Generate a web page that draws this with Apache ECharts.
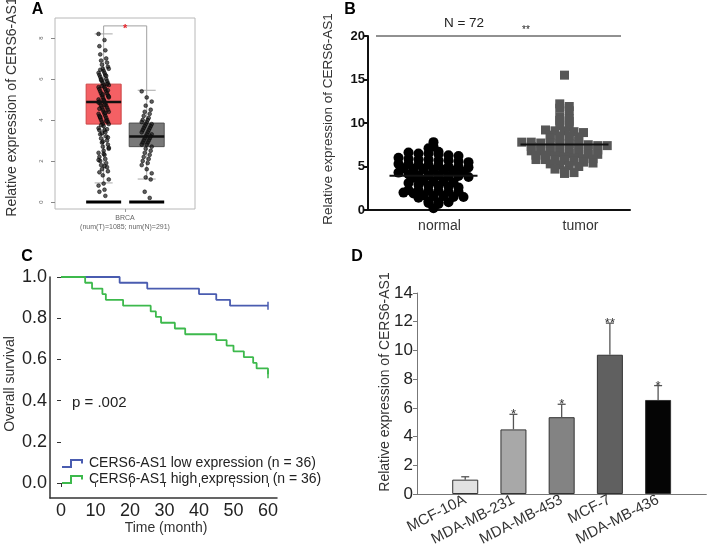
<!DOCTYPE html>
<html><head><meta charset="utf-8">
<script src="https://cdn.jsdelivr.net/npm/echarts@6/dist/echarts.min.js"></script>
<style>html,body{margin:0;padding:0;background:#fff}#c{width:709px;height:549px}</style>
</head><body><div id="c"></div>
<script>
// ---------- DATA ----------
// Panel A (GEPIA box plot, BRCA)
const catA = ['BRCA'];
const subA = '(num(T)=1085; num(N)=291)';
const groupsA = ['Tumor', 'Normal'];
// box stats: [lowWhisker, q1, median, q3, highWhisker]
const boxTumorA = [0.93, 3.8, 4.88, 5.75, 8.2];
const boxNormalA = [1.12, 2.7, 3.2, 3.85, 5.45];
const tumorA = [8.2,7.9,7.6,7.4,7.2,7.0,6.9,6.8,6.7,6.6,6.5,6.5,6.4,6.3,6.3,6.2,6.2,6.1,6.0,6.0,5.9,5.9,5.8,5.8,5.7,5.7,5.6,5.6,5.5,5.5,5.4,5.4,5.3,5.3,5.2,5.2,5.1,5.1,5.0,5.0,4.9,4.9,4.8,4.8,4.7,4.7,4.6,4.6,4.5,4.5,4.4,4.4,4.3,4.3,4.2,4.2,4.1,4.1,4.0,4.0,3.9,3.9,3.8,3.8,3.7,3.6,3.5,3.5,3.4,3.3,3.2,3.1,3.0,2.9,2.8,2.7,2.6,2.5,2.4,2.3,2.2,2.1,2.0,1.9,1.8,1.7,1.6,1.5,1.3,1.1,0.9,0.8,0.6,0.5,0.3,
  6.45,6.15,5.95,5.75,5.65,5.45,5.25,5.15,4.95,4.85,4.75,4.55,4.35,4.15,3.95,3.75,3.55,3.35,3.15,2.95,2.65,2.35,2.05,1.75,1.45];
const normalA = [5.4,5.1,4.9,4.7,4.5,4.4,4.3,4.2,4.1,4.0,4.0,3.9,3.9,3.8,3.8,3.7,3.7,3.6,3.6,3.5,3.5,3.4,3.4,3.3,3.3,3.2,3.2,3.1,3.1,3.0,3.0,2.9,2.9,2.8,2.8,2.7,2.6,2.5,2.4,2.3,2.2,2.1,2.0,1.9,1.8,1.6,1.4,1.2,1.1,0.5,0.2];

// Panel B (scatter, N = 72)
const catsB = ['normal', 'tumor'];
const normalB = [7.8,7.3,7.1,
 6.7,6.6,6.5,6.5,6.4,6.3,6.2,
 6.0,5.9,5.8,5.8,5.7,5.7,5.6,5.5,
 5.3,5.3,5.2,5.2,5.1,5.0,5.0,4.9,
 4.8,4.7,4.7,4.6,4.6,4.5,4.4,4.3,
 4.1,4.0,4.0,4.0,3.9,3.9,3.8,3.7,
 3.4,3.3,3.3,3.2,3.1,
 2.9,2.8,2.8,2.7,2.6,
 2.3,2.3,2.2,2.2,2.1,2.1,2.0,1.9,
 1.7,1.6,1.6,1.5,1.5,1.4,
 1.0,0.9,0.9,0.8,0.7,0.2];
const tumorB = [15.5,
 12.2,11.9,11.7,11.4,
 10.7,10.5,10.3,10.2,
 9.7,9.5,
 9.2,9.1,9.1,9.0,8.9,
 8.6,8.5,8.5,8.4,8.3,8.2,8.1,
 7.9,7.8,7.8,7.7,7.7,7.6,7.6,7.5,7.5,7.4,7.4,7.3,
 7.2,7.1,7.1,7.0,7.0,6.9,6.9,6.8,6.8,6.7,
 6.6,6.5,6.5,6.4,6.4,6.3,6.3,6.2,6.1,
 6.0,5.9,5.9,5.8,5.8,5.7,5.7,5.6,
 5.5,5.4,5.3,5.2,5.1,5.0,
 4.7,4.5,4.3,4.2];
const noteB = 'N = 72';
const sigB = '**';

// Panel C (Kaplan-Meier)
const timeLow = [0, 17, 25, 40, 45, 49, 60];
const survLow = [1.0, 0.972, 0.944, 0.917, 0.889, 0.861, 0.861];
const timeHigh = [0, 7, 9, 12, 13, 18, 26, 27.5, 29, 33, 36, 45, 48, 50, 53, 55.7, 56.7, 60];
const survHigh = [1.0, 0.972, 0.944, 0.917, 0.889, 0.861, 0.833, 0.806, 0.778, 0.750, 0.722, 0.694, 0.667, 0.639, 0.611, 0.583, 0.556, 0.528];
const namesC = ['CERS6-AS1 low expression (n = 36)', 'CERS6-AS1 high expression (n = 36)'];
const pText = 'p = .002';

// Panel D (bar chart)
const catsD = ['MCF-10A', 'MDA-MB-231', 'MDA-MB-453', 'MCF-7', 'MDA-MB-436'];
const valuesD = [1.0, 4.5, 5.35, 9.7, 6.55];
const errD = [0.2, 1.05, 0.9, 2.2, 1.0];
const sigD = ['', '*', '*', '**', '*'];

// ---------- STYLE / LAYOUT ----------
const F = 'Liberation Sans, Arial, Helvetica, sans-serif';
const colorsD = ['#e2e2e2', '#a8a8a8', '#838383', '#606060', '#050505'];
const boxFillA = ['#f46064', '#787878'];
const boxLineA = ['#cc4444', '#505050'];
const xPosA = [1.39, 2.62];
const colLow = '#4a5cb0', colHigh = '#3db94c';

// GraphPad-like scatter layout: rows (by pixel bins) spread horizontally; y stays at the true value
function rowSpread(vals, pxPerUnit, rowH, sp) {
  const bins = {};
  vals.forEach((v, i) => { const b = Math.round(v * pxPerUnit / rowH); (bins[b] = bins[b] || []).push(i); });
  const offs = new Array(vals.length).fill(0);
  Object.keys(bins).forEach(b => {
    const arr = bins[b], n = arr.length;
    arr.forEach((idx, j) => { offs[idx] = (j - (n - 1) / 2) * sp; });
  });
  return offs;
}
const pxB = 174 / 20;
const offNormalB = rowSpread(normalB, pxB, 5, 10);
const offTumorB = rowSpread(tumorB, pxB, 4.4, 9.5);
const mean = a => a.reduce((s, v) => s + v, 0) / a.length;

const chart = echarts.init(document.getElementById('c'), null, { renderer: 'canvas', devicePixelRatio: 1 });

function vText(text, x, y, size, color) {
  return { type: 'text', x: x, y: y, rotation: Math.PI / 2, style: { text: text, x: 0, y: 0, align: 'center', verticalAlign: 'middle', font: size + 'px ' + F, fill: color || '#333' } };
}
function hText(text, x, y, size, opts) {
  opts = opts || {};
  return { type: 'text', x: x, y: y, style: { text: text, align: opts.align || 'center', verticalAlign: 'middle', font: (opts.bold ? 'bold ' : '') + size + 'px ' + F, fill: opts.color || '#222' } };
}

const option = {
  animation: false,
  backgroundColor: '#ffffff',
  textStyle: { fontFamily: F },
  grid: [
    { left: 55, top: 18, width: 140, height: 191, show: true, borderColor: '#b8b8b8', borderWidth: 1 },
    { left: 55, top: 38, width: 140, height: 164 },
    { left: 368, top: 36, width: 262, height: 174 },
    { left: 50, top: 277, width: 227, height: 221 },
    { left: 61, top: 277, width: 207, height: 206 },
    { left: 417, top: 293, width: 300, height: 201 }
  ],
  xAxis: [
    { gridIndex: 0, type: 'category', data: catA, axisLine: { show: false },
      axisTick: { show: true, alignWithLabel: true, length: 3, lineStyle: { color: '#999' } },
      axisLabel: { formatter: v => v + '\n' + subA, fontSize: 7, color: '#666', lineHeight: 9, margin: 5 } },
    { gridIndex: 1, type: 'value', min: 0, max: 4, show: false },
    { gridIndex: 2, type: 'category', data: catsB,
      axisLine: { lineStyle: { color: '#111', width: 2 } }, axisTick: { show: false },
      axisLabel: { fontSize: 14, color: '#333', margin: 9,
        formatter: (v, i) => i === 0 ? '{n|' + v + '}' : '{t|' + v + '}',
        rich: { n: { fontSize: 14, color: '#333', padding: [0, 0, 0, 12] }, t: { fontSize: 14, color: '#333', padding: [0, 0, 0, 32] } } } },
    { gridIndex: 3, type: 'value', min: 0, max: 1, axisLine: { show: true, onZero: false, lineStyle: { color: '#333', width: 1.5 } },
      axisTick: { show: false }, axisLabel: { show: false }, splitLine: { show: false } },
    { gridIndex: 4, type: 'value', min: 0, max: 60, interval: 10, offset: 15, axisLine: { show: false },
      axisTick: { show: true, length: 4, lineStyle: { color: '#333' } },
      axisLabel: { fontSize: 18, color: '#222', margin: 4 }, splitLine: { show: false } },
    { gridIndex: 5, type: 'category', data: [''].concat(catsD, ['']), boundaryGap: false,
      axisLine: { lineStyle: { color: '#777', width: 1 } }, axisTick: { show: false },
      axisLabel: { interval: 0, rotate: 27, fontSize: 15, color: '#333', margin: 5 } }
  ],
  yAxis: [
    { gridIndex: 0, type: 'value', show: false },
    { gridIndex: 1, type: 'value', min: 0, max: 8, interval: 2, offset: 8, axisLine: { show: false },
      axisTick: { show: true, length: 4, lineStyle: { color: '#888' } },
      axisLabel: { fontSize: 6, color: '#666', rotate: 90, margin: 3 }, splitLine: { show: false } },
    { gridIndex: 2, type: 'value', min: 0, max: 20, interval: 5,
      axisLine: { show: true, lineStyle: { color: '#111', width: 2 } },
      axisTick: { show: true, length: 5, lineStyle: { color: '#111', width: 2 } },
      axisLabel: { fontSize: 13, fontWeight: 'bold', color: '#111', margin: 3 }, splitLine: { show: false } },
    { gridIndex: 3, type: 'value', min: 0, max: 1, axisLine: { show: true, onZero: false, lineStyle: { color: '#333', width: 1.5 } },
      axisTick: { show: false }, axisLabel: { show: false }, splitLine: { show: false } },
    { gridIndex: 4, type: 'value', min: 0, max: 1, interval: 0.2, offset: 11, axisLine: { show: false },
      axisTick: { show: true, length: 4, lineStyle: { color: '#333' } },
      axisLabel: { fontSize: 18, color: '#222', margin: 3, formatter: v => v.toFixed(1) }, splitLine: { show: false } },
    { gridIndex: 5, type: 'value', min: 0, max: 14, interval: 2,
      axisLine: { show: true, lineStyle: { color: '#777', width: 1 } },
      axisTick: { show: true, length: 4, lineStyle: { color: '#777' } },
      axisLabel: { fontSize: 17, color: '#222', margin: 4 }, splitLine: { show: false } }
  ],
  series: [
    // A: boxes with whiskers and zero bars
    { type: 'custom', xAxisIndex: 1, yAxisIndex: 1, z: 2,
      data: [[xPosA[0]].concat(boxTumorA, [0]), [xPosA[1]].concat(boxNormalA, [1])],
      renderItem: function (params, api) {
        const x = api.coord([api.value(0), 0])[0];
        const y = k => api.coord([api.value(0), api.value(k)])[1];
        const gi = api.value(6);
        const w = 35, cw = 18;
        const yLo = y(1), yQ1 = y(2), yQ3 = y(4), yHi = y(5), y0 = api.coord([0, 0])[1];
        const ws = { stroke: '#a8a8a8', lineWidth: 1 };
        return { type: 'group', children: [
          { type: 'line', shape: { x1: x, y1: yHi, x2: x, y2: yQ3 }, style: ws },
          { type: 'line', shape: { x1: x, y1: yQ1, x2: x, y2: yLo }, style: ws },
          { type: 'line', shape: { x1: x - cw / 2, y1: yHi, x2: x + cw / 2, y2: yHi }, style: ws },
          { type: 'line', shape: { x1: x - cw / 2, y1: yLo, x2: x + cw / 2, y2: yLo }, style: ws },
          { type: 'rect', shape: { x: x - w / 2, y: yQ3, width: w, height: yQ1 - yQ3 }, style: { fill: boxFillA[gi], stroke: boxLineA[gi], lineWidth: 1 } },
          { type: 'line', shape: { x1: x - w / 2, y1: y0, x2: x + w / 2, y2: y0 }, style: { stroke: '#000', lineWidth: 3 } }
        ] };
      } },
    // A: jittered points
    { type: 'custom', xAxisIndex: 1, yAxisIndex: 1, z: 3,
      data: tumorA.map((v, i) => [xPosA[0], v, ((i * 7) % 13 - 6) * 0.85]).concat(
            normalA.map((v, i) => [xPosA[1], v, ((i * 5) % 11 - 5) * 1.0])),
      renderItem: function (params, api) {
        const c = api.coord([api.value(0), api.value(1)]);
        return { type: 'circle', shape: { cx: c[0] + api.value(2), cy: c[1], r: 1.9 }, style: { fill: 'rgba(25,25,25,0.7)', stroke: 'rgba(0,0,0,0.85)', lineWidth: 0.6 } };
      } },
    // A: medians
    { type: 'custom', xAxisIndex: 1, yAxisIndex: 1, z: 4,
      data: [[xPosA[0], boxTumorA[2]], [xPosA[1], boxNormalA[2]]],
      renderItem: function (params, api) {
        const c = api.coord([api.value(0), api.value(1)]);
        return { type: 'line', shape: { x1: c[0] - 17.5, y1: c[1], x2: c[0] + 17.5, y2: c[1] }, style: { stroke: '#111', lineWidth: 2.5 } };
      } },
    // A: significance bracket
    { type: 'custom', xAxisIndex: 1, yAxisIndex: 1, z: 4,
      data: [[xPosA[0], boxTumorA[4], xPosA[1], boxNormalA[4]]],
      renderItem: function (params, api) {
        const a = api.coord([api.value(0), api.value(1)]);
        const b = api.coord([api.value(2), api.value(3)]);
        const top = a[1] - 8;
        return { type: 'group', children: [
          { type: 'polyline', shape: { points: [[a[0], a[1]], [a[0], top], [b[0], top], [b[0], b[1]]] }, style: { stroke: '#a0a0a0', lineWidth: 1, fill: null } },
          { type: 'text', x: (a[0] + b[0]) / 2, y: top + 3, style: { text: '*', align: 'center', verticalAlign: 'middle', font: 'bold 11px ' + F, fill: '#e8262c' } }
        ] };
      } },
    // B: normal circles
    { type: 'custom', xAxisIndex: 2, yAxisIndex: 2, z: 3,
      data: normalB.map((v, i) => [0, v, offNormalB[i]]),
      renderItem: function (params, api) {
        const c = api.coord([api.value(0), api.value(1)]);
        return { type: 'circle', shape: { cx: c[0] + api.value(2), cy: c[1], r: 5 }, style: { fill: '#000' } };
      } },
    // B: tumor squares
    { type: 'custom', xAxisIndex: 2, yAxisIndex: 2, z: 3,
      data: tumorB.map((v, i) => [1, v, offTumorB[i]]),
      renderItem: function (params, api) {
        const c = api.coord([api.value(0), api.value(1)]);
        return { type: 'rect', shape: { x: c[0] + api.value(2) - 4.5, y: c[1] - 4.5, width: 9, height: 9 }, style: { fill: '#575757' } };
      } },
    // B: mean lines
    { type: 'custom', xAxisIndex: 2, yAxisIndex: 2, z: 4,
      data: [[0, mean(normalB)], [1, mean(tumorB)]],
      renderItem: function (params, api) {
        const c = api.coord([api.value(0), api.value(1)]);
        return { type: 'line', shape: { x1: c[0] - 44, y1: c[1], x2: c[0] + 44, y2: c[1] }, style: { stroke: '#111', lineWidth: 2 } };
      } },
    // C: survival curves
    { type: 'line', name: namesC[0], xAxisIndex: 4, yAxisIndex: 4, step: 'end', symbol: 'none', showSymbol: true,
      color: colLow, lineStyle: { width: 1.8, color: colLow },
      data: timeLow.map((t, i) => i === timeLow.length - 1 ? { value: [t, survLow[i]], symbol: 'rect', symbolSize: [1.5, 8] } : [t, survLow[i]]) },
    { type: 'line', name: namesC[1], xAxisIndex: 4, yAxisIndex: 4, step: 'end', symbol: 'none', showSymbol: true,
      color: colHigh, lineStyle: { width: 1.8, color: colHigh },
      data: timeHigh.map((t, i) => i === timeHigh.length - 1 ? { value: [t, survHigh[i]], symbol: 'rect', symbolSize: [1.5, 8] } : [t, survHigh[i]]) },
    // D: bars
    { type: 'bar', xAxisIndex: 5, yAxisIndex: 5, barWidth: 26, z: 2,
      itemStyle: { borderColor: '#333', borderWidth: 1 },
      data: ['-'].concat(valuesD.map((v, i) => ({ value: v, itemStyle: { color: colorsD[i] } })), ['-']) },
    // D: error bars + significance
    { type: 'custom', xAxisIndex: 5, yAxisIndex: 5, z: 3,
      data: valuesD.map((v, i) => [i + 1, v, errD[i], i]),
      renderItem: function (params, api) {
        const idx = api.value(0), v = api.value(1), e = api.value(2);
        const b = api.coord([idx, v]), t = api.coord([idx, v + e]);
        const st = { stroke: '#555', lineWidth: 1.3 };
        const s = sigD[api.value(3)];
        const ch = [
          { type: 'line', shape: { x1: b[0], y1: b[1], x2: t[0], y2: t[1] }, style: st },
          { type: 'line', shape: { x1: t[0] - 4, y1: t[1], x2: t[0] + 4, y2: t[1] }, style: st }
        ];
        if (s) ch.push({ type: 'text', x: t[0], y: t[1] + 7, style: { text: s, align: 'center', verticalAlign: 'bottom', font: '13px ' + F, fill: '#333' } });
        return { type: 'group', children: ch };
      } }
  ],
  graphic: [
    hText('A', 37.5, 10, 16, { bold: true, color: '#000' }),
    hText('B', 350, 10, 16, { bold: true, color: '#000' }),
    hText('C', 27, 257, 16, { bold: true, color: '#000' }),
    hText('D', 357, 257, 16, { bold: true, color: '#000' }),
    vText('Relative expression of CERS6-AS1', 12, 107, 14, '#333'),
    vText('Relative expression of CERS6-AS1', 328, 119, 13.5, '#333'),
    vText('Overall survival', 10, 384, 14, '#333'),
    vText('Relative expression of CERS6-AS1', 385, 382, 14, '#333'),
    hText('Time (month)', 166, 528, 14, { color: '#333' }),
    hText(pText, 72, 403, 15, { align: 'left', color: '#222' }),
    { type: 'line', shape: { x1: 376, y1: 36, x2: 621, y2: 36 }, style: { stroke: '#222', lineWidth: 1 } },
    hText(noteB, 464, 23, 13.5, { color: '#222' }),
    hText(sigB, 526, 30, 10, { color: '#222' }),
    { type: 'polyline', shape: { points: [[62, 467], [71, 467], [71, 460], [82, 460], [82, 463.5]] }, style: { stroke: colLow, lineWidth: 2, fill: null } },
    hText(namesC[0], 89, 463, 14, { align: 'left', color: '#222' }),
    { type: 'polyline', shape: { points: [[62, 483], [71, 483], [71, 476], [82, 476], [82, 479.5]] }, style: { stroke: colHigh, lineWidth: 2, fill: null } },
    hText(namesC[1], 89, 479, 14, { align: 'left', color: '#222' })
  ]
};
chart.setOption(option);
</script>
</body></html>
